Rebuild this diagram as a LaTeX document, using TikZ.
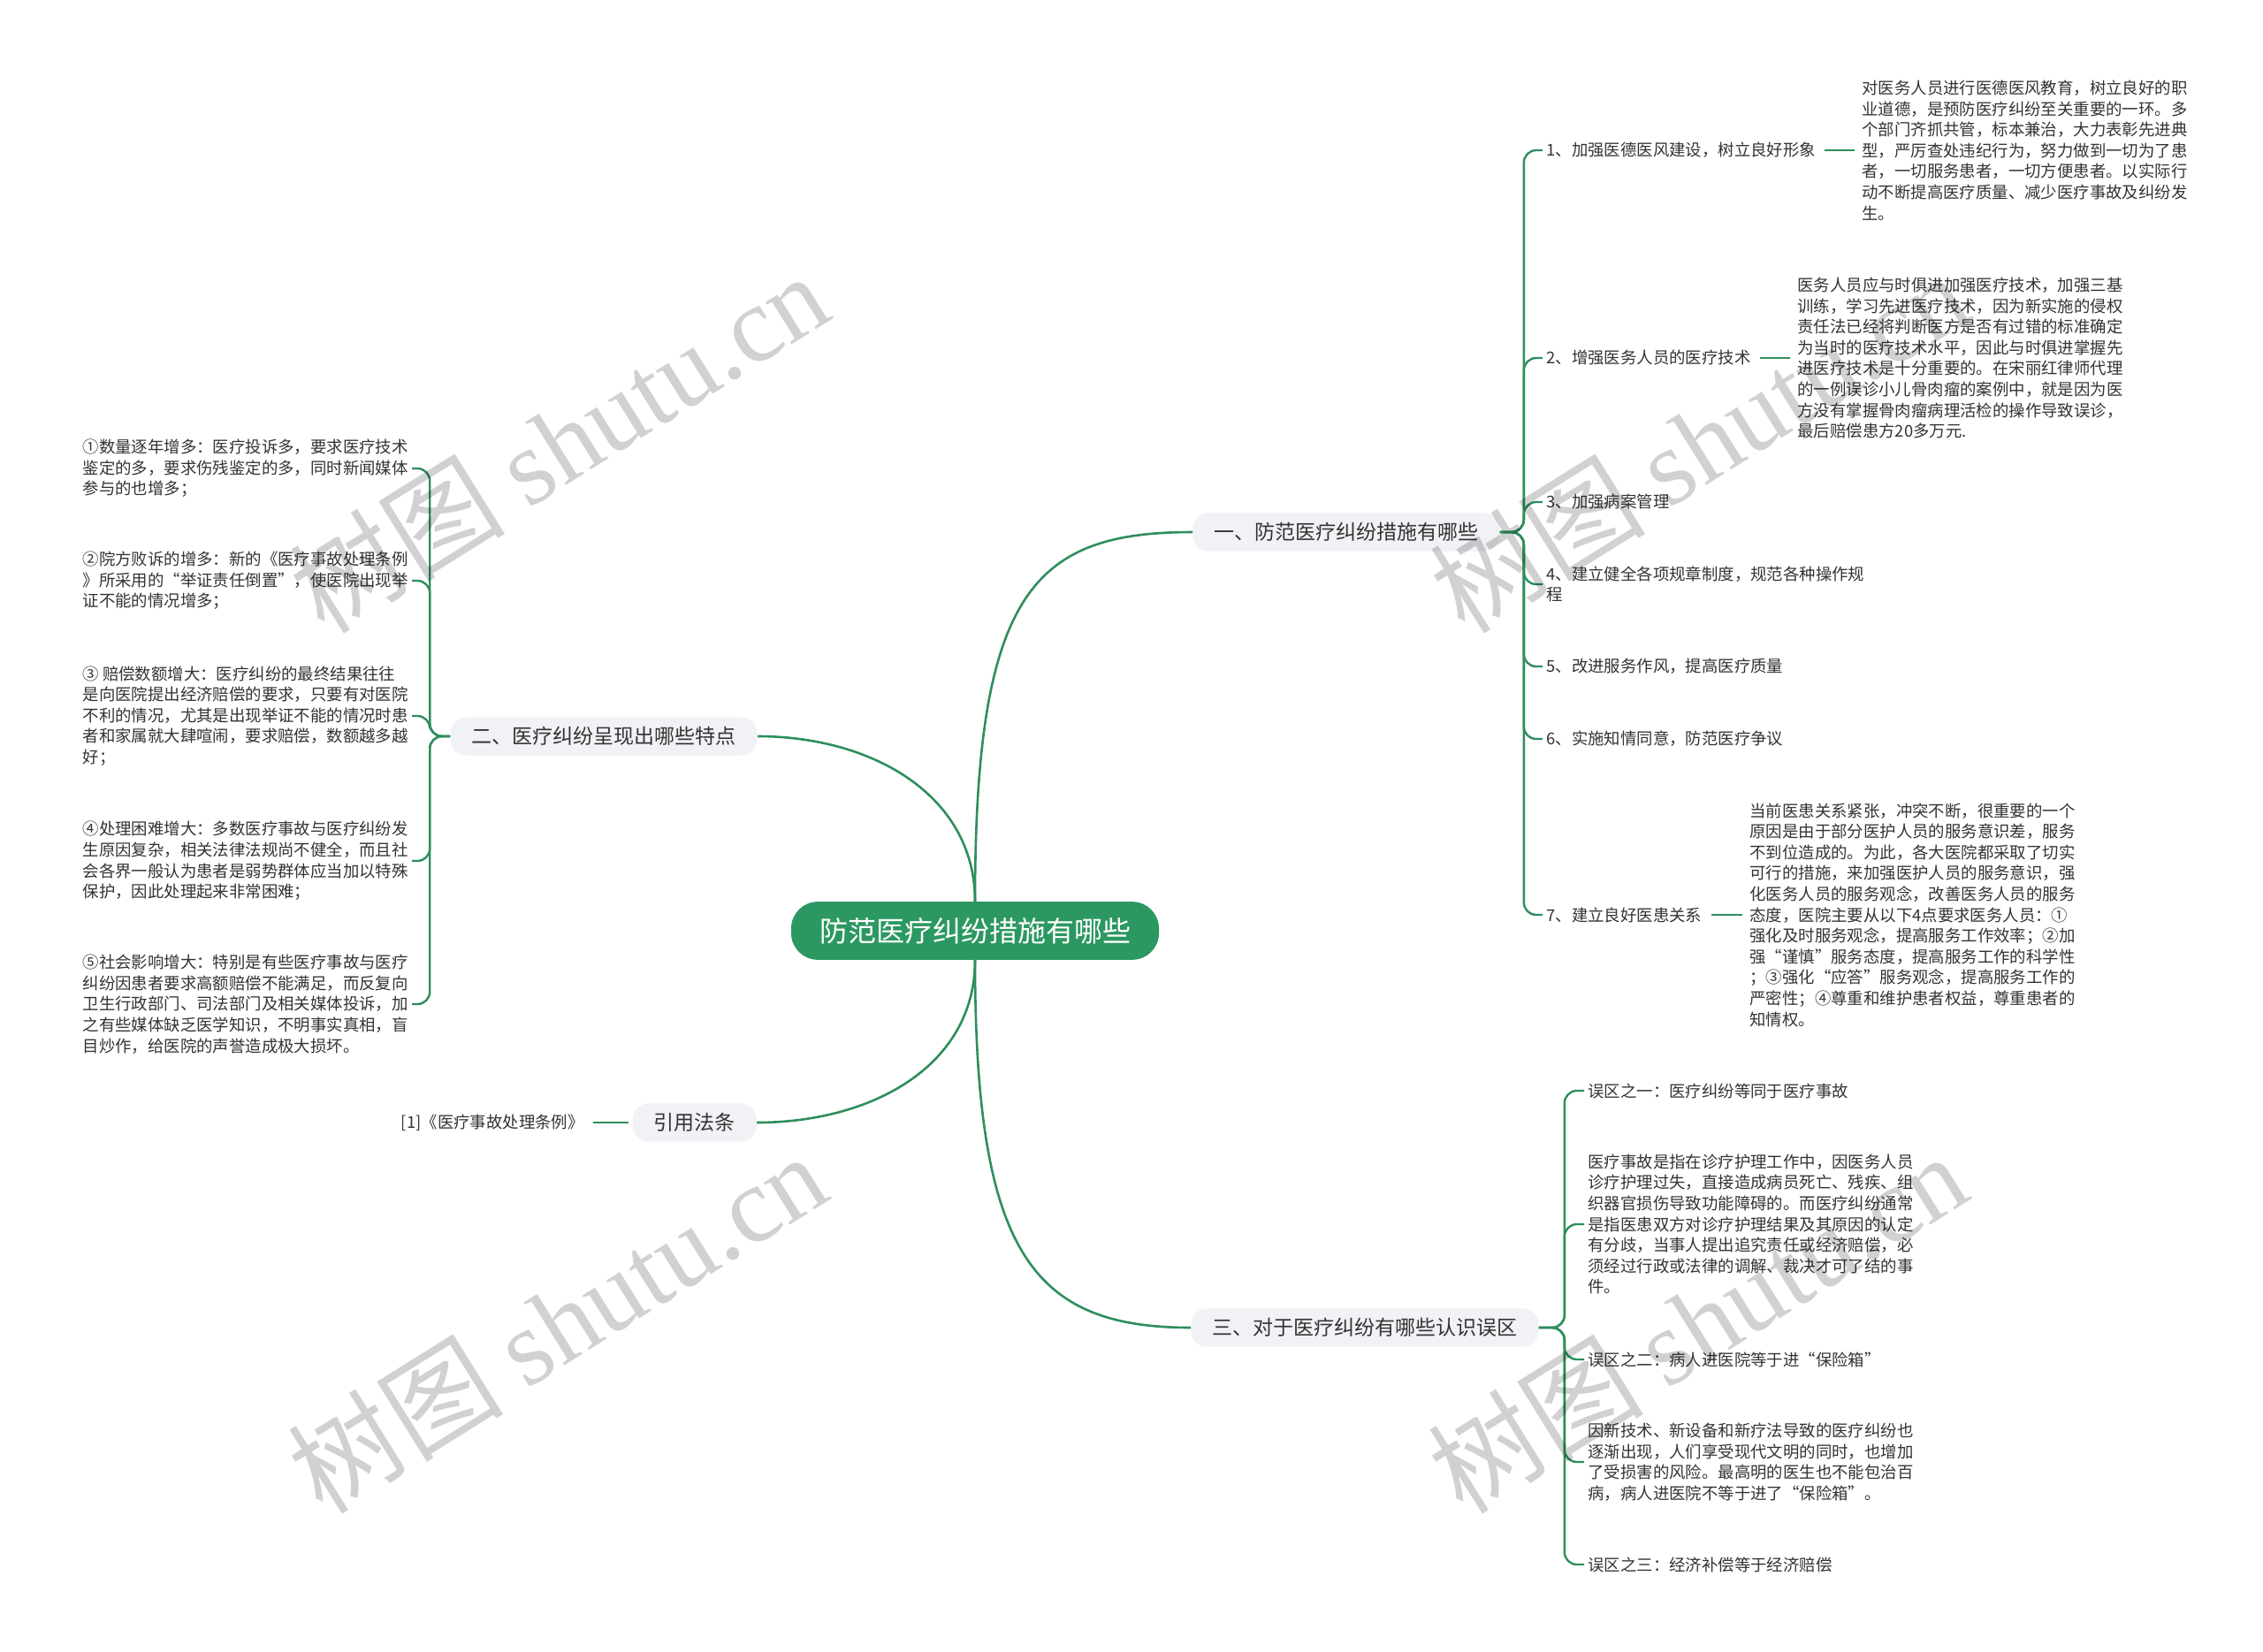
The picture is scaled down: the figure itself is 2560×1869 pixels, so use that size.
\documentclass[tikz,border=0pt]{standalone}
\usepackage{fontspec}
\setmainfont{Noto Sans CJK SC}
\newfontfamily\wmlatin{Liberation Serif}
\usepackage{xcolor}
\usepackage{tikz}
\definecolor{rootgreen}{RGB}{44,152,97}
\definecolor{linkgreen}{RGB}{46,142,92}
\definecolor{topicgray}{RGB}{240,242,245}
\definecolor{textgray}{RGB}{51,51,51}
\tikzset{
    root/.style={fill=rootgreen, text=white, rounded corners=15pt,
        inner xsep=16pt, inner ysep=9pt, font=\fontsize{16pt}{19pt}\selectfont},
    topic/.style={fill=topicgray, text=textgray, rounded corners=9pt,
        inner xsep=12pt, inner ysep=5.5pt, font=\fontsize{11.5pt}{14pt}\selectfont},
    item/.style={text=textgray, inner sep=2pt, align=left,
        font=\fontsize{9.2pt}{11.8pt}\selectfont},
    main_link/.style={draw=linkgreen, line width=1.3pt},
    sub_link/.style={draw=linkgreen, line width=1.2pt, rounded corners=7pt},
    leaf_link/.style={draw=linkgreen, line width=1.2pt, shorten <=3pt, shorten >=2pt},
    watermark/.style={text=black, text opacity=0.18, rotate=32,
        font=\fontsize{61pt}{66pt}\selectfont}
}

\begin{document}
\begin{tikzpicture}[x=0.5pt, y=-0.5pt]

    % =========================================================================
    % CANVAS
    % =========================================================================
    \fill[white] (0,0) rectangle (2560,1869);
    \useasboundingbox (0,0) rectangle (2560,1869);

    % =========================================================================
    % ROOT AND MAIN TOPICS
    % =========================================================================
    \node[root] (root) at (1103,1053) {防范医疗纠纷措施有哪些};

    \node[topic, anchor=west] (br_measure) at (1349,602) {一、防范医疗纠纷措施有哪些};
    \node[topic, anchor=east] (br_feature) at (857,833) {二、医疗纠纷呈现出哪些特点};
    \node[topic, anchor=east] (br_law) at (856,1270) {引用法条};
    \node[topic, anchor=west] (br_myth) at (1347,1502) {三、对于医疗纠纷有哪些认识误区};

    % Curved links from the root
    \draw[main_link] (root.north) .. controls +(0,-350) and +(-180,0) .. (br_measure.west);
    \draw[main_link] (root.north) .. controls +(0,-120) and +(130,0) .. (br_feature.east);
    \draw[main_link] (root.south) .. controls +(0,120) and +(130,0) .. (br_law.east);
    \draw[main_link] (root.south) .. controls +(0,330) and +(-180,0) .. (br_myth.west);

    % =========================================================================
    % RIGHT UPPER: measures
    % =========================================================================
    \node[item, anchor=west] (m_one) at (1745,170) {1、加强医德医风建设，树立良好形象};
    \node[item, anchor=west] (m_two) at (1745,405) {2、增强医务人员的医疗技术};
    \node[item, anchor=west] (m_three) at (1745,568) {3、加强病案管理};
    \node[item, anchor=west] (m_four) at (1745,661) {4、建立健全各项规章制度，规范各种操作规\\程};
    \node[item, anchor=west] (m_five) at (1745,754) {5、改进服务作风，提高医疗质量};
    \node[item, anchor=west] (m_six) at (1745,836) {6、实施知情同意，防范医疗争议};
    \node[item, anchor=west] (m_seven) at (1745,1035) {7、建立良好医患关系};

    \foreach \m in {m_one, m_two, m_three, m_four, m_five, m_six, m_seven}
        \draw[sub_link] (br_measure.east) -- ++(27,0) |- (\m.west);

    \node[item, anchor=west] (m_one_txt) at (2102,170) {对医务人员进行医德医风教育，树立良好的职\\
        业道德，是预防医疗纠纷至关重要的一环。多\\
        个部门齐抓共管，标本兼治，大力表彰先进典\\
        型，严厉查处违纪行为，努力做到一切为了患\\
        者，一切服务患者，一切方便患者。以实际行\\
        动不断提高医疗质量、减少医疗事故及纠纷发\\
        生。};
    \node[item, anchor=west] (m_two_txt) at (2029,405) {医务人员应与时俱进加强医疗技术，加强三基\\
        训练，学习先进医疗技术，因为新实施的侵权\\
        责任法已经将判断医方是否有过错的标准确定\\
        为当时的医疗技术水平，因此与时俱进掌握先\\
        进医疗技术是十分重要的。在宋丽红律师代理\\
        的一例误诊小儿骨肉瘤的案例中，就是因为医\\
        方没有掌握骨肉瘤病理活检的操作导致误诊，\\
        最后赔偿患方20多万元.};
    \node[item, anchor=west] (m_seven_txt) at (1975,1035) {当前医患关系紧张，冲突不断，很重要的一个\\
        原因是由于部分医护人员的服务意识差，服务\\
        不到位造成的。为此，各大医院都采取了切实\\
        可行的措施，来加强医护人员的服务意识，强\\
        化医务人员的服务观念，改善医务人员的服务\\
        态度，医院主要从以下4点要求医务人员：①\\
        强化及时服务观念，提高服务工作效率；②加\\
        强“谨慎”服务态度，提高服务工作的科学性\\
        ；③强化“应答”服务观念，提高服务工作的\\
        严密性；④尊重和维护患者权益，尊重患者的\\
        知情权。};

    \draw[leaf_link] (m_one.east) -- (m_one_txt.west);
    \draw[leaf_link] (m_two.east) -- (m_two_txt.west);
    \draw[leaf_link] (m_seven.east) -- (m_seven_txt.west);

    % =========================================================================
    % RIGHT LOWER: misunderstandings
    % =========================================================================
    \node[item, anchor=west] (y_one) at (1792,1234) {误区之一：医疗纠纷等同于医疗事故};
    \node[item, anchor=west] (y_one_txt) at (1792,1385) {医疗事故是指在诊疗护理工作中，因医务人员\\
        诊疗护理过失，直接造成病员死亡、残疾、组\\
        织器官损伤导致功能障碍的。而医疗纠纷通常\\
        是指医患双方对诊疗护理结果及其原因的认定\\
        有分歧，当事人提出追究责任或经济赔偿，必\\
        须经过行政或法律的调解、裁决才可了结的事\\
        件。};
    \node[item, anchor=west] (y_two) at (1792,1538) {误区之二：病人进医院等于进“保险箱”};
    \node[item, anchor=west] (y_two_txt) at (1792,1654) {因新技术、新设备和新疗法导致的医疗纠纷也\\
        逐渐出现，人们享受现代文明的同时，也增加\\
        了受损害的风险。最高明的医生也不能包治百\\
        病，病人进医院不等于进了“保险箱”。};
    \node[item, anchor=west] (y_three) at (1792,1770) {误区之三：经济补偿等于经济赔偿};

    \foreach \y in {y_one, y_one_txt, y_two, y_two_txt, y_three}
        \draw[sub_link] (br_myth.east) -- ++(29,0) |- (\y.west);

    % =========================================================================
    % LEFT: features and law
    % =========================================================================
    \node[item, anchor=east] (f_one) at (466,530) {①数量逐年增多：医疗投诉多，要求医疗技术\\
        鉴定的多，要求伤残鉴定的多，同时新闻媒体\\
        参与的也增多；};
    \node[item, anchor=east] (f_two) at (466,657) {②院方败诉的增多：新的《医疗事故处理条例\\
        》所采用的“举证责任倒置”，使医院出现举\\
        证不能的情况增多；};
    \node[item, anchor=east] (f_three) at (466,810) {③ 赔偿数额增大：医疗纠纷的最终结果往往\\
        是向医院提出经济赔偿的要求，只要有对医院\\
        不利的情况，尤其是出现举证不能的情况时患\\
        者和家属就大肆喧闹，要求赔偿，数额越多越\\
        好；};
    \node[item, anchor=east] (f_four) at (466,974) {④处理困难增大：多数医疗事故与医疗纠纷发\\
        生原因复杂，相关法律法规尚不健全，而且社\\
        会各界一般认为患者是弱势群体应当加以特殊\\
        保护，因此处理起来非常困难；};
    \node[item, anchor=east] (f_five) at (466,1136) {⑤社会影响增大：特别是有些医疗事故与医疗\\
        纠纷因患者要求高额赔偿不能满足，而反复向\\
        卫生行政部门、司法部门及相关媒体投诉，加\\
        之有些媒体缺乏医学知识，不明事实真相，盲\\
        目炒作，给医院的声誉造成极大损坏。};

    \foreach \f in {f_one, f_two, f_three, f_four, f_five}
        \draw[sub_link] (br_feature.west) -- ++(-23,0) |- (\f.east);

    \node[item, anchor=east] (law_ref) at (665,1270) {[1]《医疗事故处理条例》};
    \draw[leaf_link] (law_ref.east) -- (br_law.west);

    % =========================================================================
    % WATERMARKS
    % =========================================================================
    \foreach \wx/\wy in {632/500, 1922/500, 630/1496, 1920/1496}
        \node[watermark] at (\wx,\wy) {树图 {\wmlatin shutu.cn}};

\end{tikzpicture}
\end{document}
